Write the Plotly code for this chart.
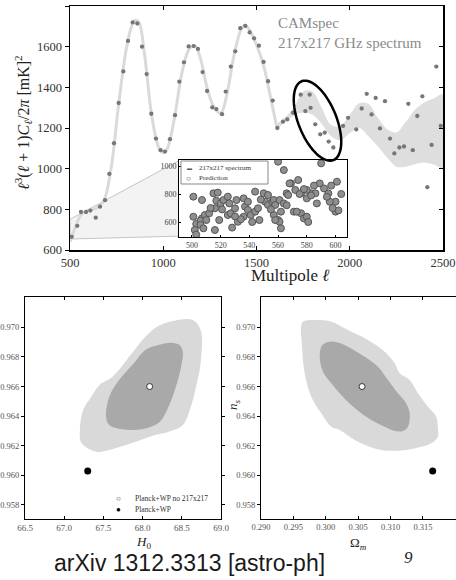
import numpy as np
import plotly.graph_objects as go

W, H = 456, 580
SERIF = "Liberation Serif, Times New Roman, serif"
SANS = "Liberation Sans, Arial, sans-serif"

# ---------------- top panel: 217x217 spectrum ----------------
spec_l = [509, 539, 559, 586, 609, 638, 661, 688, 711, 736, 761, 786, 811, 836, 861, 886, 911, 936, 961, 986,
          1009, 1036, 1063, 1086, 1111, 1136, 1163, 1186, 1211, 1235, 1263, 1285, 1315, 1335, 1362, 1386, 1413,
          1440, 1463, 1487, 1513, 1538, 1562, 1587, 1612, 1642, 1665, 1696, 1737, 1762, 1785, 1790, 1815, 1842,
          1866, 1887, 1912, 1964, 1991, 2035, 2064, 2091, 2117, 2139, 2162, 2189, 2216, 2239, 2266, 2291, 2314,
          2338, 2362, 2389, 2416, 2439, 2464, 2488]
spec_d = [665, 719, 787, 787, 794, 759, 813, 845, 974, 1125, 1323, 1478, 1628, 1719, 1714, 1600, 1465, 1270, 1148,
          1091, 1084, 1145, 1263, 1428, 1523, 1601, 1603, 1589, 1475, 1382, 1301, 1293, 1268, 1379, 1502, 1577,
          1691, 1702, 1670, 1641, 1605, 1525, 1430, 1335, 1200, 1231, 1242, 1275, 1364, 1283, 1364, 1299, 1218,
          1169, 1177, 1133, 1104, 1210, 1250, 1193, 1296, 1368, 1267, 1348, 1198, 1332, 1148, 1075, 1104, 1109,
          1319, 1091, 1259, 1356, 909, 1117, 1502, 1210]

theory_l = [500, 530, 560, 600, 640, 680, 720, 760, 800, 830, 850, 870, 900, 940, 980, 1000, 1020, 1060, 1100,
            1140, 1170, 1200, 1240, 1280, 1310, 1340, 1380, 1420, 1440, 1460, 1500, 1540, 1580, 1610]
theory_d = [640, 715, 775, 795, 805, 840, 1000, 1310, 1580, 1700, 1730, 1720, 1560, 1250, 1095, 1080, 1095, 1250,
            1470, 1590, 1605, 1540, 1380, 1290, 1275, 1360, 1560, 1690, 1705, 1685, 1610, 1500, 1330, 1200]

band_l = [1600, 1650, 1700, 1750, 1800, 1850, 1900, 1950, 2000, 2050, 2100, 2150, 2200, 2250, 2300, 2350, 2400,
          2450, 2500]
band_hi = [1215, 1250, 1300, 1380, 1380, 1300, 1215, 1210, 1265, 1322, 1318, 1250, 1195, 1178, 1230, 1290, 1325,
           1345, 1365]
band_lo = [1190, 1225, 1262, 1275, 1265, 1220, 1160, 1140, 1175, 1200, 1160, 1110, 1055, 1010, 1010, 1022, 1030,
           1020, 1005]

zoom_l = [500, 1084, 1084, 500]
zoom_d = [751, 1039, 668, 654]

x_ticks_main = [500, 1000, 1500, 2000, 2500]
y_ticks_main = [600, 800, 1000, 1200, 1400, 1600, 1800]

# ---------------- inset ----------------
inset_l = [501, 501, 503, 502, 503, 507, 507, 506, 509, 510, 512, 515, 517, 516, 518, 519, 520, 522, 525, 526,
           525, 527, 530, 531, 532, 536, 536, 537, 539, 539, 541, 544, 544, 546, 550, 551, 553, 553, 556, 557,
           557, 558, 560, 561, 562, 564, 566, 569, 571, 572, 576, 576, 578, 580, 583, 586, 506, 516, 508, 560,
           564, 568, 574, 580, 590, 589, 595, 601, 600, 587, 573, 580, 581, 561, 562, 558, 547, 567, 575, 583,
           596, 600, 602, 592, 597, 585, 578, 594, 604, 598, 566, 528, 534, 521, 513, 548, 555, 542, 530]
inset_d = [781, 638, 586, 543, 510, 757, 626, 610, 650, 614, 662, 805, 752, 698, 810, 614, 733, 757, 781, 733,
           650, 662, 698, 757, 602, 769, 638, 710, 745, 686, 650, 817, 674, 698, 805, 745, 793, 722, 745, 757,
           650, 722, 614, 757, 674, 733, 805, 876, 674, 829, 805, 662, 626, 769, 805, 805, 579, 543, 555, 1031,
           971, 876, 900, 829, 1019, 876, 805, 888, 745, 733, 674, 638, 600, 602, 555, 614, 614, 793, 800, 790,
           745, 674, 683, 840, 860, 860, 835, 780, 800, 700, 720, 560, 620, 690, 700, 760, 690, 600, 640]
inset_xticks = [500, 520, 540, 560, 580, 600]
inset_yticks = [600, 800, 1000]

# ---------------- bottom panels: contours ----------------
h0_outer = [68.409, 68.638, 68.741, 68.741, 68.70, 68.616, 68.513, 68.325, 68.159, 67.866, 67.575, 67.409, 67.221,
            67.20, 67.241, 67.346, 67.45, 67.616, 67.866, 68.034, 68.20]
ns_outer_h = [0.97045, 0.97049, 0.96982, 0.96759, 0.96644, 0.96463, 0.96340, 0.96293, 0.96272, 0.96218, 0.96171,
              0.96159, 0.96218, 0.96306, 0.96441, 0.96531, 0.96610, 0.96666, 0.96826, 0.96936, 0.97009]
h0_inner = [68.366, 68.471, 68.513, 68.491, 68.45, 68.366, 68.241, 68.159, 67.991, 67.741, 67.575, 67.534, 67.575,
            67.70, 67.888, 68.034, 68.20]
ns_inner_h = [0.96896, 0.96880, 0.96835, 0.96734, 0.96644, 0.96509, 0.96374, 0.96340, 0.96311, 0.96311, 0.96340,
              0.96396, 0.96531, 0.96644, 0.96757, 0.96847, 0.96880]

om_outer = [0.29648, 0.29802, 0.30085, 0.30342, 0.30651, 0.30909, 0.31063, 0.31140, 0.31295, 0.31423, 0.31577,
            0.31705, 0.31731, 0.31731, 0.31628, 0.31372, 0.31011, 0.30754, 0.30446, 0.30214, 0.30085, 0.29930,
            0.29776, 0.29674, 0.29633, 0.29622]
ns_outer_o = [0.97038, 0.97049, 0.97038, 0.96982, 0.96914, 0.96835, 0.96757, 0.96689, 0.96644, 0.96554, 0.96463,
              0.96396, 0.96306, 0.96261, 0.96216, 0.96182, 0.96166, 0.96182, 0.96238, 0.96306, 0.96328, 0.96419,
              0.96531, 0.96689, 0.96869, 0.97016]
om_inner = [0.29983, 0.30137, 0.30342, 0.30600, 0.30805, 0.30960, 0.31114, 0.31242, 0.31295, 0.31268, 0.31191,
            0.31068, 0.30909, 0.30702, 0.30548, 0.30393, 0.30239, 0.30085, 0.29957, 0.29906, 0.29931]
ns_inner_o = [0.96892, 0.96903, 0.96869, 0.96801, 0.96734, 0.96644, 0.96554, 0.96486, 0.96419, 0.96328, 0.96299,
              0.96299, 0.96328, 0.96374, 0.96419, 0.96475, 0.96543, 0.96622, 0.96700, 0.96801, 0.96869]

best_no217 = {"H0": 68.09, "Om": 0.3056, "ns": 0.9660}
best_all = {"H0": 67.30, "Om": 0.3165, "ns": 0.9603}

h0_ticks = [66.5, 67.0, 67.5, 68.0, 68.5, 69.0]
om_ticks = [0.290, 0.295, 0.300, 0.305, 0.310, 0.315]
ns_ticks = [0.958, 0.960, 0.962, 0.964, 0.966, 0.968, 0.970]


def dx(a, b):
    return [a / W, b / W]


def dy(top, bottom):
    return [1 - bottom / H, 1 - top / H]


fig = go.Figure()

fig.add_trace(go.Scatter(x=zoom_l + [zoom_l[0]], y=zoom_d + [zoom_d[0]], mode="lines", fill="toself",
                         fillcolor="#f3f3f3", line=dict(color="#c4c4c4", width=1), hoverinfo="skip",
                         showlegend=False, xaxis="x", yaxis="y"))
fig.add_trace(go.Scatter(x=band_l + band_l[::-1], y=band_hi + band_lo[::-1], mode="lines", fill="toself",
                         fillcolor="#dedede", line=dict(width=0, shape="spline"), showlegend=False,
                         xaxis="x", yaxis="y"))
fig.add_trace(go.Scatter(x=theory_l, y=theory_d, mode="lines", line=dict(color="#dadada", width=3, shape="spline"),
                         showlegend=False, xaxis="x", yaxis="y"))
fig.add_trace(go.Scatter(x=spec_l, y=spec_d, mode="markers", marker=dict(color="#777777", size=4.3),
                         showlegend=False, xaxis="x", yaxis="y"))
fig.add_trace(go.Scatter(x=[None], y=[None], xaxis="x", yaxis="y5", showlegend=False))

fig.add_trace(go.Scatter(x=inset_l, y=inset_d, mode="markers",
                         marker=dict(color="#8e8e8e", size=7, line=dict(color="#555", width=1)),
                         showlegend=False, xaxis="x2", yaxis="y2"))

fig.add_trace(go.Scatter(x=h0_outer + [h0_outer[0]], y=ns_outer_h + [ns_outer_h[0]], mode="lines", fill="toself",
                         fillcolor="#d9d9d9", line=dict(width=0, shape="spline"), showlegend=False,
                         xaxis="x3", yaxis="y3"))
fig.add_trace(go.Scatter(x=h0_inner + [h0_inner[0]], y=ns_inner_h + [ns_inner_h[0]], mode="lines", fill="toself",
                         fillcolor="#a9a9a9", line=dict(width=0, shape="spline"), showlegend=False,
                         xaxis="x3", yaxis="y3"))
fig.add_trace(go.Scatter(x=[best_no217["H0"]], y=[best_no217["ns"]], mode="markers",
                         marker=dict(color="white", size=6, line=dict(color="#333", width=1)),
                         showlegend=False, xaxis="x3", yaxis="y3"))
fig.add_trace(go.Scatter(x=[best_all["H0"]], y=[best_all["ns"]], mode="markers",
                         marker=dict(color="black", size=7), showlegend=False, xaxis="x3", yaxis="y3"))

fig.add_trace(go.Scatter(x=om_outer + [om_outer[0]], y=ns_outer_o + [ns_outer_o[0]], mode="lines", fill="toself",
                         fillcolor="#d9d9d9", line=dict(width=0, shape="spline"), showlegend=False,
                         xaxis="x4", yaxis="y4"))
fig.add_trace(go.Scatter(x=om_inner + [om_inner[0]], y=ns_inner_o + [ns_inner_o[0]], mode="lines", fill="toself",
                         fillcolor="#a9a9a9", line=dict(width=0, shape="spline"), showlegend=False,
                         xaxis="x4", yaxis="y4"))
fig.add_trace(go.Scatter(x=[best_no217["Om"]], y=[best_no217["ns"]], mode="markers",
                         marker=dict(color="white", size=6, line=dict(color="#333", width=1)),
                         showlegend=False, xaxis="x4", yaxis="y4"))
fig.add_trace(go.Scatter(x=[best_all["Om"]], y=[best_all["ns"]], mode="markers",
                         marker=dict(color="black", size=7), showlegend=False, xaxis="x4", yaxis="y4"))


def ax(**kw):
    base = dict(showgrid=False, zeroline=False, showline=True, linecolor="black", tickcolor="black",
                automargin=False, tickfont=dict(family=SERIF, size=12.5, color="#333"), fixedrange=True)
    base.update(kw)
    return base


fig.update_layout(
    template="none",
    width=W, height=H, margin=dict(l=0, r=0, t=0, b=0, pad=0),
    paper_bgcolor="white", plot_bgcolor="white", showlegend=False,
    xaxis=ax(domain=dx(70, 443), range=[500, 2500], tickvals=x_ticks_main, anchor="y",
             linewidth=1.5, mirror="ticks", ticks="inside", ticklen=4),
    yaxis=ax(domain=dy(6, 250), range=[600, 1800], tickvals=y_ticks_main, anchor="x",
             linewidth=1.5, mirror=True, ticks="outside", ticklen=4),
    yaxis5=ax(overlaying="y", side="right", anchor="x", range=[600, 1800], tickvals=y_ticks_main,
              showticklabels=False, ticks="inside", ticklen=4, showline=False),
    xaxis2=ax(domain=dx(179, 347), range=[491, 608], tickvals=inset_xticks, anchor="y2",
              linewidth=1, mirror=True, ticks="inside", ticklen=2,
              tickfont=dict(family=SERIF, size=8, color="#444")),
    yaxis2=ax(domain=dy(160, 237), range=[493, 1043], tickvals=inset_yticks, anchor="x2",
              linewidth=1, mirror=True, ticks="inside", ticklen=2,
              tickfont=dict(family=SERIF, size=8, color="#444")),
    xaxis3=ax(domain=dx(25, 221), range=[66.5, 69.0], tickvals=h0_ticks, tickformat=".1f", anchor="y3",
              linewidth=1, mirror="ticks", ticks="inside", ticklen=3,
              tickfont=dict(family=SERIF, size=9, color="#555")),
    yaxis3=ax(domain=dy(297, 519), range=[0.95705, 0.97205], tickvals=ns_ticks, tickformat=".3f", anchor="x3",
              linewidth=1, mirror="ticks", ticks="outside", ticklen=3,
              tickfont=dict(family=SERIF, size=8.5, color="#555")),
    xaxis4=ax(domain=dx(261, 456), range=[0.290, 0.3201], tickvals=om_ticks, tickformat=".3f", anchor="y4",
              linewidth=1, mirror="ticks", ticks="inside", ticklen=3,
              tickfont=dict(family=SERIF, size=8.5, color="#555")),
    yaxis4=ax(domain=dy(297, 519), range=[0.95705, 0.97205], tickvals=ns_ticks, tickformat=".3f", anchor="x4",
              linewidth=1, mirror="ticks", ticks="outside", ticklen=3,
              tickfont=dict(family=SERIF, size=8.5, color="#555")),
)

# ellipse highlight (decorative), defined in pixel geometry
cx_px, cy_px, a_px, b_px, phi = 317.5, 120.7, 42.5, 19.0, np.radians(22)
t = np.linspace(0, 2 * np.pi, 73)
ex = cx_px + a_px * np.cos(t) * (-np.sin(phi)) + b_px * np.sin(t) * np.cos(phi)
ey = cy_px + a_px * np.cos(t) * (-np.cos(phi)) + b_px * np.sin(t) * (-np.sin(phi))
path = "M " + " L ".join(f"{x / W:.5f},{1 - y / H:.5f}" for x, y in zip(ex, ey)) + " Z"
shapes = [dict(type="path", path=path, xref="paper", yref="paper", line=dict(color="black", width=2.5))]
shapes.append(dict(type="rect", xref="paper", yref="paper", x0=181 / W, x1=268 / W, y0=1 - 184 / H, y1=1 - 161 / H,
                   line=dict(color="#888", width=1), fillcolor="white"))
fig.update_layout(shapes=shapes)


def ann(x, y, text, size, color="#222", family=SERIF, xanchor="center", angle=0):
    return dict(x=x / W, y=1 - y / H, xref="paper", yref="paper", text=text, showarrow=False,
                font=dict(family=family, size=size, color=color), xanchor=xanchor, yanchor="middle",
                textangle=angle)


annotations = [
    ann(276, 23, "CAMspec", 15, color="#8a8a8a", xanchor="left"),
    ann(276, 43, "217x217 GHz spectrum", 15, color="#8a8a8a", xanchor="left"),
    ann(23, 123, "<i>ℓ</i><sup>3</sup>(<i>ℓ</i> + 1)<i>C<sub>ℓ</sub></i>/2<i>π</i> [mK]<sup>2</sup>", 16,
        angle=-90),
    ann(290, 275, "Multipole <i>ℓ</i>", 17),
    ann(185, 168, "▬", 5, color="#555", xanchor="left"),
    ann(197, 168, "217x217 spectrum", 7, color="#333", xanchor="left"),
    ann(184, 178, "○", 8, color="#333", xanchor="left"),
    ann(197, 178, "Prediction", 7, color="#333", xanchor="left"),
    ann(118, 498, "○", 8, color="#333"),
    ann(133, 498, "Planck+WP no 217x217", 7.5, color="#333", xanchor="left"),
    ann(118, 509, "●", 8, color="black"),
    ann(133, 509, "Planck+WP", 7.5, color="#333", xanchor="left"),
    ann(143, 542, "<i>H</i><sub>0</sub>", 13),
    ann(358, 543, "Ω<sub><i>m</i></sub>", 13),
    ann(233, 405, "<i>n<sub>s</sub></i>", 13, angle=-90),
    ann(189, 563, "arXiv 1312.3313 [astro-ph]", 23, color="#1a1a1a", family=SANS),
    ann(408, 557, "<i>9</i>", 17, color="#222"),
]
fig.update_layout(annotations=annotations)

fig.write_html("out.html", config={"displayModeBar": False, "staticPlot": True},
               post_script="document.body.style.margin='0px';document.body.style.overflow='hidden';")
